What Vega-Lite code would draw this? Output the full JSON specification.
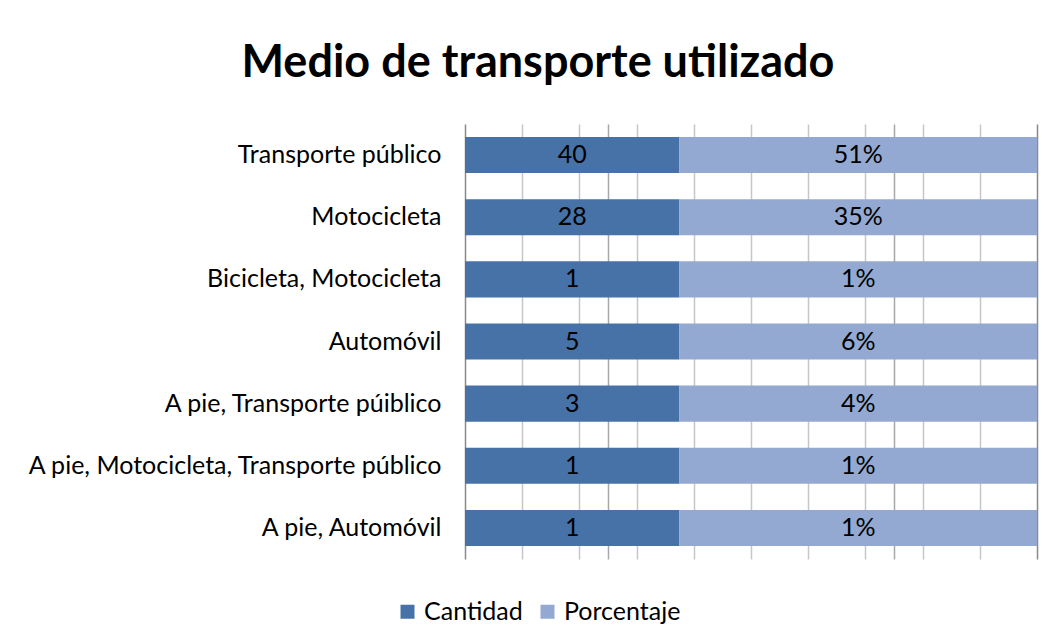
{
  "$schema": "https://vega.github.io/schema/vega-lite/v6.json",
  "width": 572,
  "height": 435,
  "autosize": {"type": "none"},
  "padding": {"left": 465, "top": 124, "right": 13, "bottom": 85},
  "background": "white",
  "title": {
    "text": "Medio de transporte utilizado",
    "font": "Lato",
    "fontSize": 45,
    "fontWeight": "bold",
    "color": "#000000",
    "anchor": "middle",
    "dx": -213,
    "offset": 38
  },
  "data": {
    "values": [
      {"medio": "Transporte público", "serie": "Cantidad", "parte": 37.5, "etiqueta": "40"},
      {"medio": "Transporte público", "serie": "Porcentaje", "parte": 62.5, "etiqueta": "51%"},
      {"medio": "Motocicleta", "serie": "Cantidad", "parte": 37.5, "etiqueta": "28"},
      {"medio": "Motocicleta", "serie": "Porcentaje", "parte": 62.5, "etiqueta": "35%"},
      {"medio": "Bicicleta, Motocicleta", "serie": "Cantidad", "parte": 37.5, "etiqueta": "1"},
      {"medio": "Bicicleta, Motocicleta", "serie": "Porcentaje", "parte": 62.5, "etiqueta": "1%"},
      {"medio": "Automóvil", "serie": "Cantidad", "parte": 37.5, "etiqueta": "5"},
      {"medio": "Automóvil", "serie": "Porcentaje", "parte": 62.5, "etiqueta": "6%"},
      {"medio": "A pie, Transporte púiblico", "serie": "Cantidad", "parte": 37.5, "etiqueta": "3"},
      {"medio": "A pie, Transporte púiblico", "serie": "Porcentaje", "parte": 62.5, "etiqueta": "4%"},
      {"medio": "A pie, Motocicleta, Transporte público", "serie": "Cantidad", "parte": 37.5, "etiqueta": "1"},
      {"medio": "A pie, Motocicleta, Transporte público", "serie": "Porcentaje", "parte": 62.5, "etiqueta": "1%"},
      {"medio": "A pie, Automóvil", "serie": "Cantidad", "parte": 37.5, "etiqueta": "1"},
      {"medio": "A pie, Automóvil", "serie": "Porcentaje", "parte": 62.5, "etiqueta": "1%"}
    ]
  },
  "encoding": {
    "y": {
      "field": "medio",
      "type": "nominal",
      "sort": null,
      "scale": {"paddingInner": 0.42, "paddingOuter": 0.21},
      "axis": {
        "title": null,
        "ticks": false,
        "domain": false,
        "labelFont": "Lato",
        "labelFontSize": 25,
        "labelColor": "#000000",
        "labelPadding": 24,
        "labelLimit": 600
      }
    }
  },
  "layer": [
    {
      "mark": {"type": "bar"},
      "encoding": {
        "x": {
          "field": "parte",
          "type": "quantitative",
          "stack": "zero",
          "scale": {"domain": [0, 100], "nice": false},
          "axis": {
            "title": null,
            "labels": false,
            "ticks": false,
            "domain": false,
            "grid": true,
            "values": [0, 10, 20, 25, 30, 40, 50, 60, 70, 75, 80, 90, 100],
            "gridWidth": 1.5,
            "gridColor": {
              "condition": [
                {"test": "datum.value === 0 || datum.value === 100", "value": "#8a8a8a"},
                {"test": "datum.value === 25 || datum.value === 75", "value": "#a8a8a8"}
              ],
              "value": "#c6c6c6"
            }
          }
        },
        "color": {
          "field": "serie",
          "type": "nominal",
          "scale": {"domain": ["Cantidad", "Porcentaje"], "range": ["#4672A8", "#93A9D1"]},
          "legend": {
            "title": null,
            "orient": "none",
            "direction": "horizontal",
            "legendX": -70,
            "legendY": 475,
            "padding": 0,
            "symbolType": "square",
            "symbolSize": 196,
            "symbolStrokeWidth": 0,
            "labelFont": "Lato",
            "labelFontSize": 25,
            "labelColor": "#000000",
            "labelOffset": 4,
            "columnPadding": 12
          }
        }
      }
    },
    {
      "transform": [
        {"stack": "parte", "groupby": ["medio"], "sort": [{"field": "serie"}], "as": ["inicio", "fin"]},
        {"calculate": "(datum.inicio + datum.fin) / 2", "as": "centro"}
      ],
      "mark": {"type": "text", "font": "Lato", "fontSize": 25, "color": "#000000"},
      "encoding": {
        "x": {"field": "centro", "type": "quantitative"},
        "text": {"field": "etiqueta", "type": "nominal"}
      }
    }
  ],
  "config": {"view": {"stroke": null}}
}
